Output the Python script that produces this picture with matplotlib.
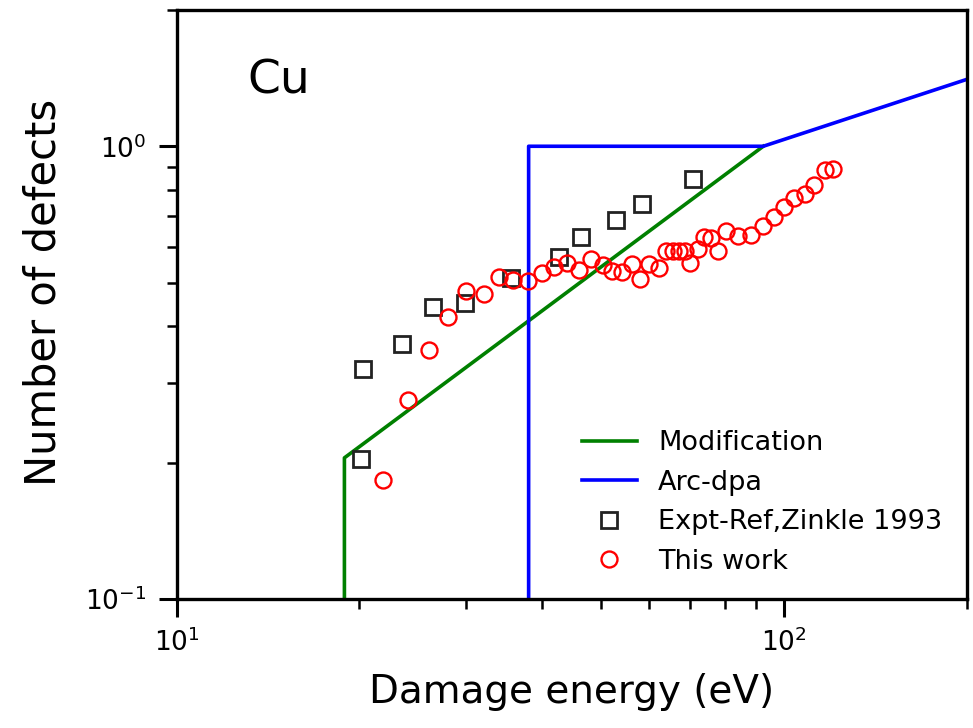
import numpy as np
import matplotlib
matplotlib.use("Agg")
import matplotlib.pyplot as plt
from matplotlib.ticker import LogLocator, NullFormatter

# Modification model (threshold step then linear rise)
mod_E = [18.9, 18.9, 92.5]
mod_N = [0.1, 0.205, 1.0]

# arc-dpa model
arc_E = [38.0, 38.0, 92.5, 200.0]
arc_N = [0.1, 1.0, 1.0, 1.405]

# Expt-Ref, Zinkle 1993
expt_E = [20.16, 20.31, 23.47, 26.41, 29.82, 35.50, 42.62, 46.33, 52.91, 58.42, 70.89]
expt_N = [0.2034, 0.3227, 0.3664, 0.4418, 0.4509, 0.5122, 0.5695, 0.6304, 0.6871, 0.7454, 0.8459]

# this work
md_E = [21.91, 24.01, 26.00, 27.95, 29.93, 32.05, 33.92, 35.78, 37.87, 39.96,
        41.81, 43.93, 45.97, 48.12, 50.37, 52.12, 54.14, 56.23, 57.99, 60.02,
        62.33, 64.00, 65.72, 67.24, 68.78, 70.10, 72.26, 73.92, 75.92, 77.97,
        80.37, 84.12, 88.40, 92.52, 96.45, 100.2, 104.1, 108.5, 112.3, 116.7,
        120.7]
md_N = [0.1828, 0.2758, 0.3553, 0.4200, 0.4794, 0.4721, 0.5148, 0.5069, 0.5043, 0.5253,
        0.5415, 0.5526, 0.5333, 0.5637, 0.5469, 0.5306, 0.5279, 0.5497, 0.5093, 0.5497,
        0.5388, 0.5870, 0.5870, 0.5870, 0.5870, 0.5526, 0.5930, 0.6304, 0.6272, 0.5870,
        0.6498, 0.6337, 0.6368, 0.6665, 0.6977, 0.7337, 0.7683, 0.7840, 0.8205, 0.8855,
        0.8898]

fig = plt.figure(figsize=(9.73, 7.28), dpi=100)
ax = fig.add_axes([0.1814, 0.1772, 0.8121, 0.8091])

ax.plot(mod_E, mod_N, color='green', lw=2.6, label='Modification')
ax.plot(arc_E, arc_N, color='blue', lw=2.6, label='Arc-dpa')
ax.plot(expt_E, expt_N, 's', ms=11, mfc='none', mec='#222222', mew=2.0,
        label='Expt-Ref,Zinkle 1993')
ax.plot(md_E, md_N, 'o', ms=11.5, mfc='none', mec='red', mew=1.7, label='This work')

ax.set_xscale('log')
ax.set_yscale('log')
ax.set_xlim(10, 200)
ax.set_ylim(0.1, 2.0)

ax.xaxis.set_minor_locator(LogLocator(base=10, subs=np.arange(2, 10)))
ax.yaxis.set_minor_locator(LogLocator(base=10, subs=np.arange(2, 10)))
ax.xaxis.set_minor_formatter(NullFormatter())
ax.yaxis.set_minor_formatter(NullFormatter())

ax.tick_params(which='major', length=13, width=2.2, labelsize=19, pad=9)
ax.tick_params(which='minor', length=7, width=1.8)
ax.tick_params(axis='x', which='major', pad=8)
for s in ax.spines.values():
    s.set_linewidth(2.4)

ax.set_xlabel('Damage energy (eV)', fontsize=28, labelpad=12)
ax.set_ylabel('Number of defects', fontsize=30)
ax.yaxis.set_label_coords(-0.142, 0.52)

ax.text(0.09, 0.88, 'Cu', transform=ax.transAxes, fontsize=34,
        ha='left', va='center')

ax.legend(loc='lower right', frameon=False, fontsize=19.5, labelspacing=0.5)

fig.savefig('out.png', dpi=100)
